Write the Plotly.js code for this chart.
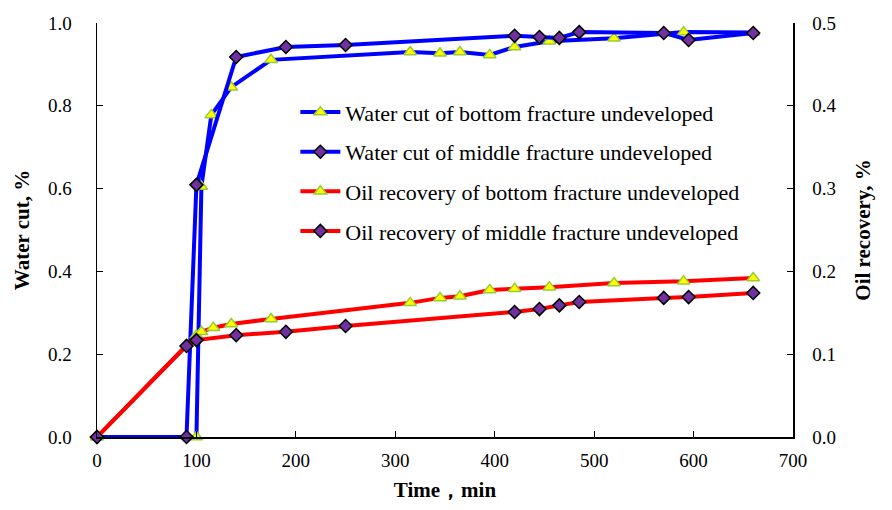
<!DOCTYPE html>
<html><head><meta charset="utf-8">
<script src="https://cdn.plot.ly/plotly-3.0.1.min.js"></script>
<style>html,body{margin:0;padding:0;background:#fff}#chart{width:892px;height:510px}</style>
</head><body><div id="chart"></div>
<script>
// Water cut, bottom fracture undeveloped
var wcBottomX = [0, 100, 105, 115, 135, 175, 315, 345, 365, 395, 420, 455, 520, 590, 660];
var wcBottomY = [0, 0, 0.605, 0.778, 0.845, 0.911, 0.930, 0.927, 0.930, 0.923, 0.942, 0.956, 0.963, 0.978, 0.977];
// Water cut, middle fracture undeveloped
var wcMiddleX = [0, 90, 100, 140, 190, 250, 420, 445, 465, 485, 570, 595, 660];
var wcMiddleY = [0, 0, 0.609, 0.918, 0.942, 0.947, 0.969, 0.966, 0.964, 0.978, 0.976, 0.959, 0.976];
// Oil recovery, bottom fracture undeveloped
var orBottomX = [0, 100, 105, 117, 135, 175, 315, 345, 365, 395, 420, 455, 520, 590, 660];
var orBottomY = [0, 0.123, 0.127, 0.132, 0.1365, 0.1425, 0.162, 0.168, 0.170, 0.1775, 0.179, 0.181, 0.186, 0.188, 0.192];
// Oil recovery, middle fracture undeveloped
var orMiddleX = [0, 90, 100, 140, 190, 250, 420, 445, 465, 485, 570, 595, 660];
var orMiddleY = [0, 0.110, 0.117, 0.123, 0.127, 0.134, 0.151, 0.1545, 0.159, 0.163, 0.168, 0.169, 0.174];

var names = ["Water cut of bottom fracture undeveloped", "Water cut of middle fracture undeveloped",
             "Oil recovery of bottom fracture undeveloped", "Oil recovery of middle fracture undeveloped"];

var tri = {symbol: 'triangle-up', size: 11, color: '#ffff00', line: {color: '#99cc33', width: 1.5}};
var dia = {symbol: 'diamond', size: 10, color: '#7030a0', line: {color: '#000000', width: 1.5}};

var traces = [
  {x: wcBottomX, y: wcBottomY, name: names[0], mode: 'lines+markers', line: {color: '#0000ff', width: 4}, marker: tri, yaxis: 'y', legendgroup: 'a', cliponaxis: false},
  {x: wcMiddleX, y: wcMiddleY, name: names[1], mode: 'lines+markers', line: {color: '#0000ff', width: 4}, marker: dia, yaxis: 'y', legendgroup: 'b', cliponaxis: false},
  {x: orBottomX, y: orBottomY, name: names[2], mode: 'lines+markers', line: {color: '#ff0000', width: 4}, marker: tri, yaxis: 'y2', legendgroup: 'c', cliponaxis: false},
  {x: orMiddleX, y: orMiddleY, name: names[3], mode: 'lines+markers', line: {color: '#ff0000', width: 4}, marker: dia, yaxis: 'y2', legendgroup: 'd', cliponaxis: false}
];

var F = 'Liberation Serif';
var layout = {
  width: 892, height: 510,
  margin: {l: 97, r: 99, t: 23, b: 73},
  paper_bgcolor: '#fff', plot_bgcolor: '#fff',
  font: {family: F, size: 19, color: '#000'},
  showlegend: true,
  legend: {x: 0.285, y: 0.835, xanchor: 'left', yanchor: 'top', bgcolor: 'rgba(0,0,0,0)',
           font: {family: F, size: 22, color: '#000'}, tracegroupgap: 8, itemwidth: 40},
  xaxis: {range: [0, 700], dtick: 100, tick0: 0, showgrid: false, zeroline: false,
          showline: true, linecolor: '#000', linewidth: 1.5, ticks: 'inside', ticklen: 6, tickcolor: '#000',
          tickfont: {family: F, size: 19, color: '#000'}, ticklabelstandoff: 6,
          title: {text: '<b>Time，min</b>', font: {family: F, size: 21, color: '#000'}, standoff: 12}},
  yaxis: {range: [0, 1], dtick: 0.2, tick0: 0, tickformat: '.1f', showgrid: false, zeroline: false,
          showline: true, linecolor: '#000', linewidth: 1.5, ticks: 'inside', ticklen: 6, tickcolor: '#000',
          tickfont: {family: F, size: 19, color: '#000'}, ticklabelstandoff: 20,
          title: {text: '<b>Water cut, %</b>', font: {family: F, size: 21, color: '#000'}, standoff: 12}},
  yaxis2: {range: [0, 0.5], dtick: 0.1, tick0: 0, tickformat: '.1f', overlaying: 'y', side: 'right',
          showgrid: false, zeroline: false,
          showline: true, linecolor: '#000', linewidth: 1.5, ticks: 'inside', ticklen: 6, tickcolor: '#000',
          tickfont: {family: F, size: 19, color: '#000'}, ticklabelstandoff: 14,
          title: {text: '<b>Oil recovery, %</b>', font: {family: F, size: 21, color: '#000'}, standoff: 20}}
};
Plotly.newPlot('chart', traces, layout, {displayModeBar: false, staticPlot: true});
</script>
</body></html>
